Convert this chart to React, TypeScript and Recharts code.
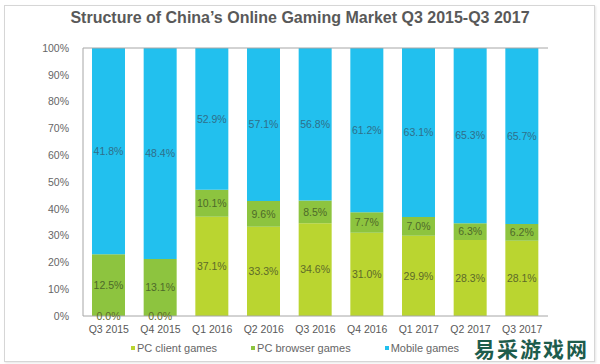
import React from "react";
import { BarChart, Bar, XAxis, YAxis, LabelList, Legend, ReferenceLine } from "recharts";

const categories = ["Q3 2015", "Q4 2015", "Q1 2016", "Q2 2016", "Q3 2016", "Q4 2016", "Q1 2017", "Q2 2017", "Q3 2017"];
const pcClient = [0.0, 0.0, 37.1, 33.3, 34.6, 31.0, 29.9, 28.3, 28.1];
const pcBrowser = [12.5, 13.1, 10.1, 9.6, 8.5, 7.7, 7.0, 6.3, 6.2];
const mobile = [41.8, 48.4, 52.9, 57.1, 56.8, 61.2, 63.1, 65.3, 65.7];
const yTicks = [0, 0.1, 0.2, 0.3, 0.4, 0.5, 0.6, 0.7, 0.8, 0.9, 1];
const seriesNames = ["PC client games", "PC browser games", "Mobile games"];
const title = "Structure of China’s Online Gaming Market Q3 2015-Q3 2017";
const watermark = "易采游戏网";

const data = categories.map((c, i) => ({
  name: c,
  client: pcClient[i],
  browser: pcBrowser[i],
  mobile: mobile[i],
}));

const COLORS = { client: "#bad530", browser: "#8dc43f", mobile: "#22c0ee" };
const FONT = "'Liberation Sans', Arial, sans-serif";
const fmt = (v: any) => `${Number(v).toFixed(1)}%`;

const LegendContent = (props: any) => {
  const payload = [...(props.payload || [])].sort(
    (a: any, b: any) => seriesNames.indexOf(a.value) - seriesNames.indexOf(b.value)
  );
  return (
    <div style={{ display: "flex", paddingLeft: 131, paddingTop: 4, fontFamily: FONT, fontSize: 11, color: "#666" }}>
      {payload.map((p: any, i: number) => (
        <div key={i} style={{ display: "flex", alignItems: "center", marginRight: 34 }}>
          <span style={{ display: "inline-block", width: 4, height: 4, background: p.color, marginRight: 2 }} />
          <span>{p.value}</span>
        </div>
      ))}
    </div>
  );
};

// Draws the label of a zero-height "PC client" segment at the base of its stack
const ZeroClientLabel = (props: any) => {
  const { x, y, width, height, value } = props;
  if (Number(value) !== 0) return null;
  return (
    <text x={x + width / 2} y={y + height} textAnchor="middle" dominantBaseline="central" style={{ fill: "#5d6b2a", fontSize: 10.5, fontFamily: FONT }}>
      {fmt(value)}
    </text>
  );
};

export default function App() {
  return (
    <div style={{ position: "fixed", left: 0, top: 0, width: 600, height: 364, background: "#fff" }}>
      <div style={{ position: "absolute", left: 4, top: 5, width: 589, height: 355, border: "1px solid #d6d6d6", boxShadow: "1px 1px 2px #e6e6e6" }} />
      <div style={{ position: "absolute", left: 0, top: 9, width: 600, textAlign: "center", fontFamily: FONT, fontWeight: "bold", fontSize: 16, color: "#595959" }}>
        {title}
      </div>
      <div style={{ position: "absolute", left: 0, top: 0 }}>
        <BarChart width={600} height={364} data={data} stackOffset="expand" margin={{ top: 48, right: 52, left: 0, bottom: 4 }} barSize={33}>
          <XAxis dataKey="name" height={22} tickLine={false} axisLine={{ stroke: "#a6a6a6" }} tick={{ fill: "#595959", fontSize: 10.5, fontFamily: FONT }} tickMargin={4} interval={0} />
          <YAxis width={83} domain={[0, 1]} ticks={yTicks} tickLine={false} axisLine={{ stroke: "#a6a6a6" }} tickFormatter={(v: number) => `${Math.round(v * 100)}%`} tick={{ fill: "#666", fontSize: 10.5, fontFamily: FONT }} tickMargin={8} />
          <YAxis yAxisId="r" orientation="right" width={0} tick={false} tickLine={false} axisLine={{ stroke: "#a6a6a6" }} />
          <ReferenceLine y={1} stroke="#a6a6a6" />
          <Legend content={<LegendContent />} height={22} />
          <Bar dataKey="client" name={seriesNames[0]} stackId="a" fill={COLORS.client} isAnimationActive={false}>
            <LabelList dataKey="client" position="center" formatter={(v: any) => (Number(v) === 0 ? "" : fmt(v))} style={{ fill: "#5d6b2a", fontSize: 10.5, fontFamily: FONT }} />
          </Bar>
          <Bar dataKey="browser" name={seriesNames[1]} stackId="a" fill={COLORS.browser} isAnimationActive={false}>
            <LabelList dataKey="browser" position="center" formatter={fmt} style={{ fill: "#4e6a2a", fontSize: 10.5, fontFamily: FONT }} />
            <LabelList dataKey="client" content={<ZeroClientLabel />} />
          </Bar>
          <Bar dataKey="mobile" name={seriesNames[2]} stackId="a" fill={COLORS.mobile} isAnimationActive={false}>
            <LabelList dataKey="mobile" position="center" formatter={fmt} style={{ fill: "#2f6f8a", fontSize: 10.5, fontFamily: FONT }} />
          </Bar>
        </BarChart>
      </div>
      <div style={{ position: "absolute", left: 474, top: 338, fontFamily: "'Noto Sans CJK SC', sans-serif", fontWeight: "bold", fontSize: 21, lineHeight: "21px", color: "#1d5c4c", letterSpacing: 2 }}>
        {watermark}
      </div>
    </div>
  );
}
